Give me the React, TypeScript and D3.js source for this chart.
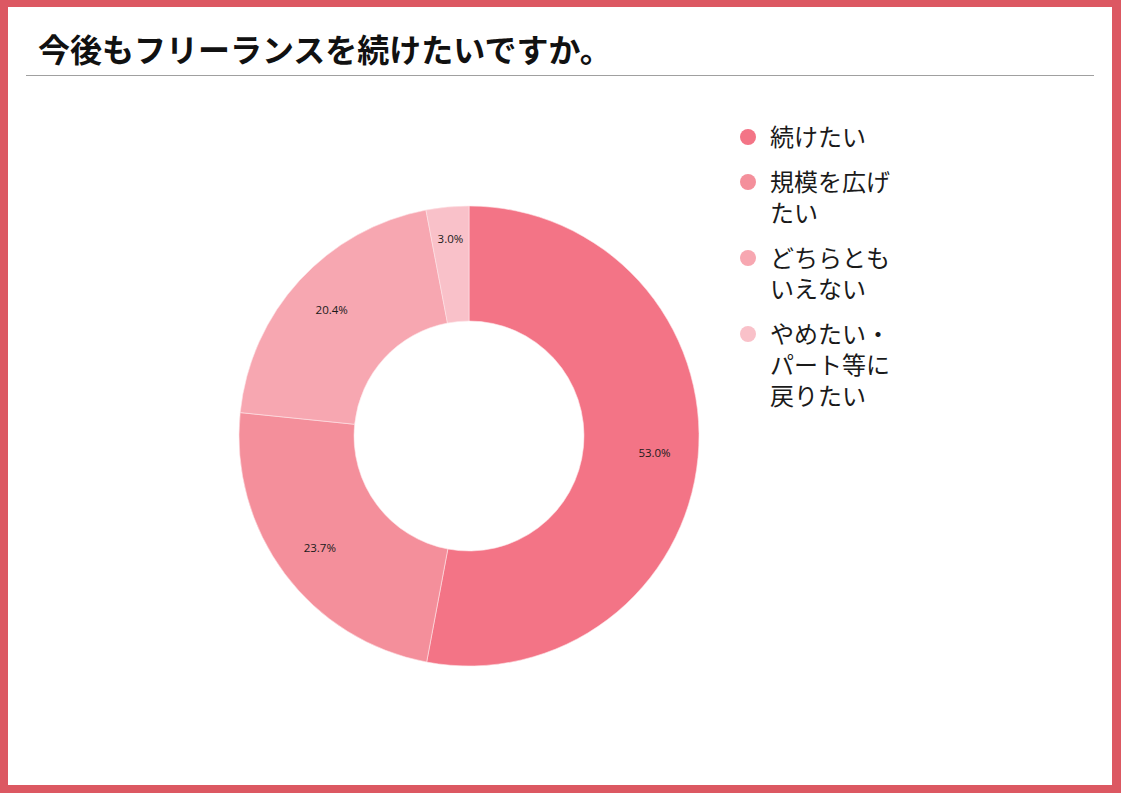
import * as d3 from 'd3'
import { useEffect, useRef } from 'react'

const categories = ['続けたい', '規模を広げたい', 'どちらともいえない', 'やめたい・パート等に戻りたい']
const legendLines = [['続けたい'], ['規模を広げ', 'たい'], ['どちらとも', 'いえない'], ['やめたい・', 'パート等に', '戻りたい']]
const values = [53.0, 23.7, 20.4, 3.0]
const colors = ['#f37486', '#f48f9b', '#f7a7b1', '#f9c1c9']
const title = '今後もフリーランスを続けたいですか。'

const W = 1121
const H = 793
const JP = '"Noto Sans CJK JP", "Noto Sans", sans-serif'

export default function App() {
  const ref = useRef<SVGSVGElement>(null)

  useEffect(() => {
    document.body.style.margin = '0'
    const svg = d3.select(ref.current)
    svg.selectAll('*').remove()

    // frame
    svg.append('rect').attr('width', W).attr('height', H).attr('fill', '#dc5862')
    svg.append('rect').attr('x', 8).attr('y', 7).attr('width', W - 17).attr('height', H - 15).attr('fill', '#fff')

    svg
      .append('text')
      .attr('x', 38)
      .attr('y', 62)
      .attr('font-family', JP)
      .attr('font-weight', 700)
      .attr('font-size', 32)
      .attr('fill', '#111')
      .text(title)

    svg.append('line').attr('x1', 26).attr('x2', 1094).attr('y1', 75.5).attr('y2', 75.5).attr('stroke', '#a0a0a0').attr('stroke-width', 1)

    const cx = 469
    const cy = 436
    const outer = 230
    const inner = 115

    const pie = d3.pie<number>().sort(null).value((d) => d)
    const arcs = pie(values)
    const arc = d3.arc<d3.PieArcDatum<number>>().innerRadius(inner).outerRadius(outer)
    const labelArc = d3.arc<d3.PieArcDatum<number>>().innerRadius(outer * 0.81).outerRadius(outer * 0.81)

    const g = svg.append('g').attr('transform', `translate(${cx},${cy})`)
    g.selectAll('path')
      .data(arcs)
      .join('path')
      .attr('d', arc)
      .attr('fill', (_, i) => colors[i])
      .attr('stroke', '#fde4e8')
      .attr('stroke-width', 0.6)

    g.selectAll('text.lbl')
      .data(arcs)
      .join('text')
      .attr('class', 'lbl')
      .attr('transform', (d) => {
        const [x, y] = labelArc.centroid(d)
        const k = d.data < 5 ? 1.06 : 1
        return `translate(${x * k},${y * k})`
      })
      .attr('text-anchor', 'middle')
      .attr('dy', '0.35em')
      .attr('font-family', '"Open Sans", "DejaVu Sans", sans-serif')
      .attr('font-size', 11.5)
      .attr('fill', '#1a1a1a')
      .text((d) => `${d.data.toFixed(1)}%`)

    // legend
    const lineH = 31
    const gap = 14
    let y = 137
    const legend = svg.append('g')
    categories.forEach((_, i) => {
      const item = legend.append('g')
      item.append('circle').attr('cx', 748).attr('cy', y).attr('r', 8).attr('fill', colors[i])
      legendLines[i].forEach((line, j) => {
        item
          .append('text')
          .attr('x', 770)
          .attr('y', y + j * lineH)
          .attr('dy', '0.36em')
          .attr('font-family', JP)
          .attr('font-size', 24)
          .attr('fill', '#1a1a1a')
          .text(line)
      })
      y += legendLines[i].length * lineH + gap
    })
  }, [])

  return <svg ref={ref} width={W} height={H} style={{ display: 'block' }} />
}
